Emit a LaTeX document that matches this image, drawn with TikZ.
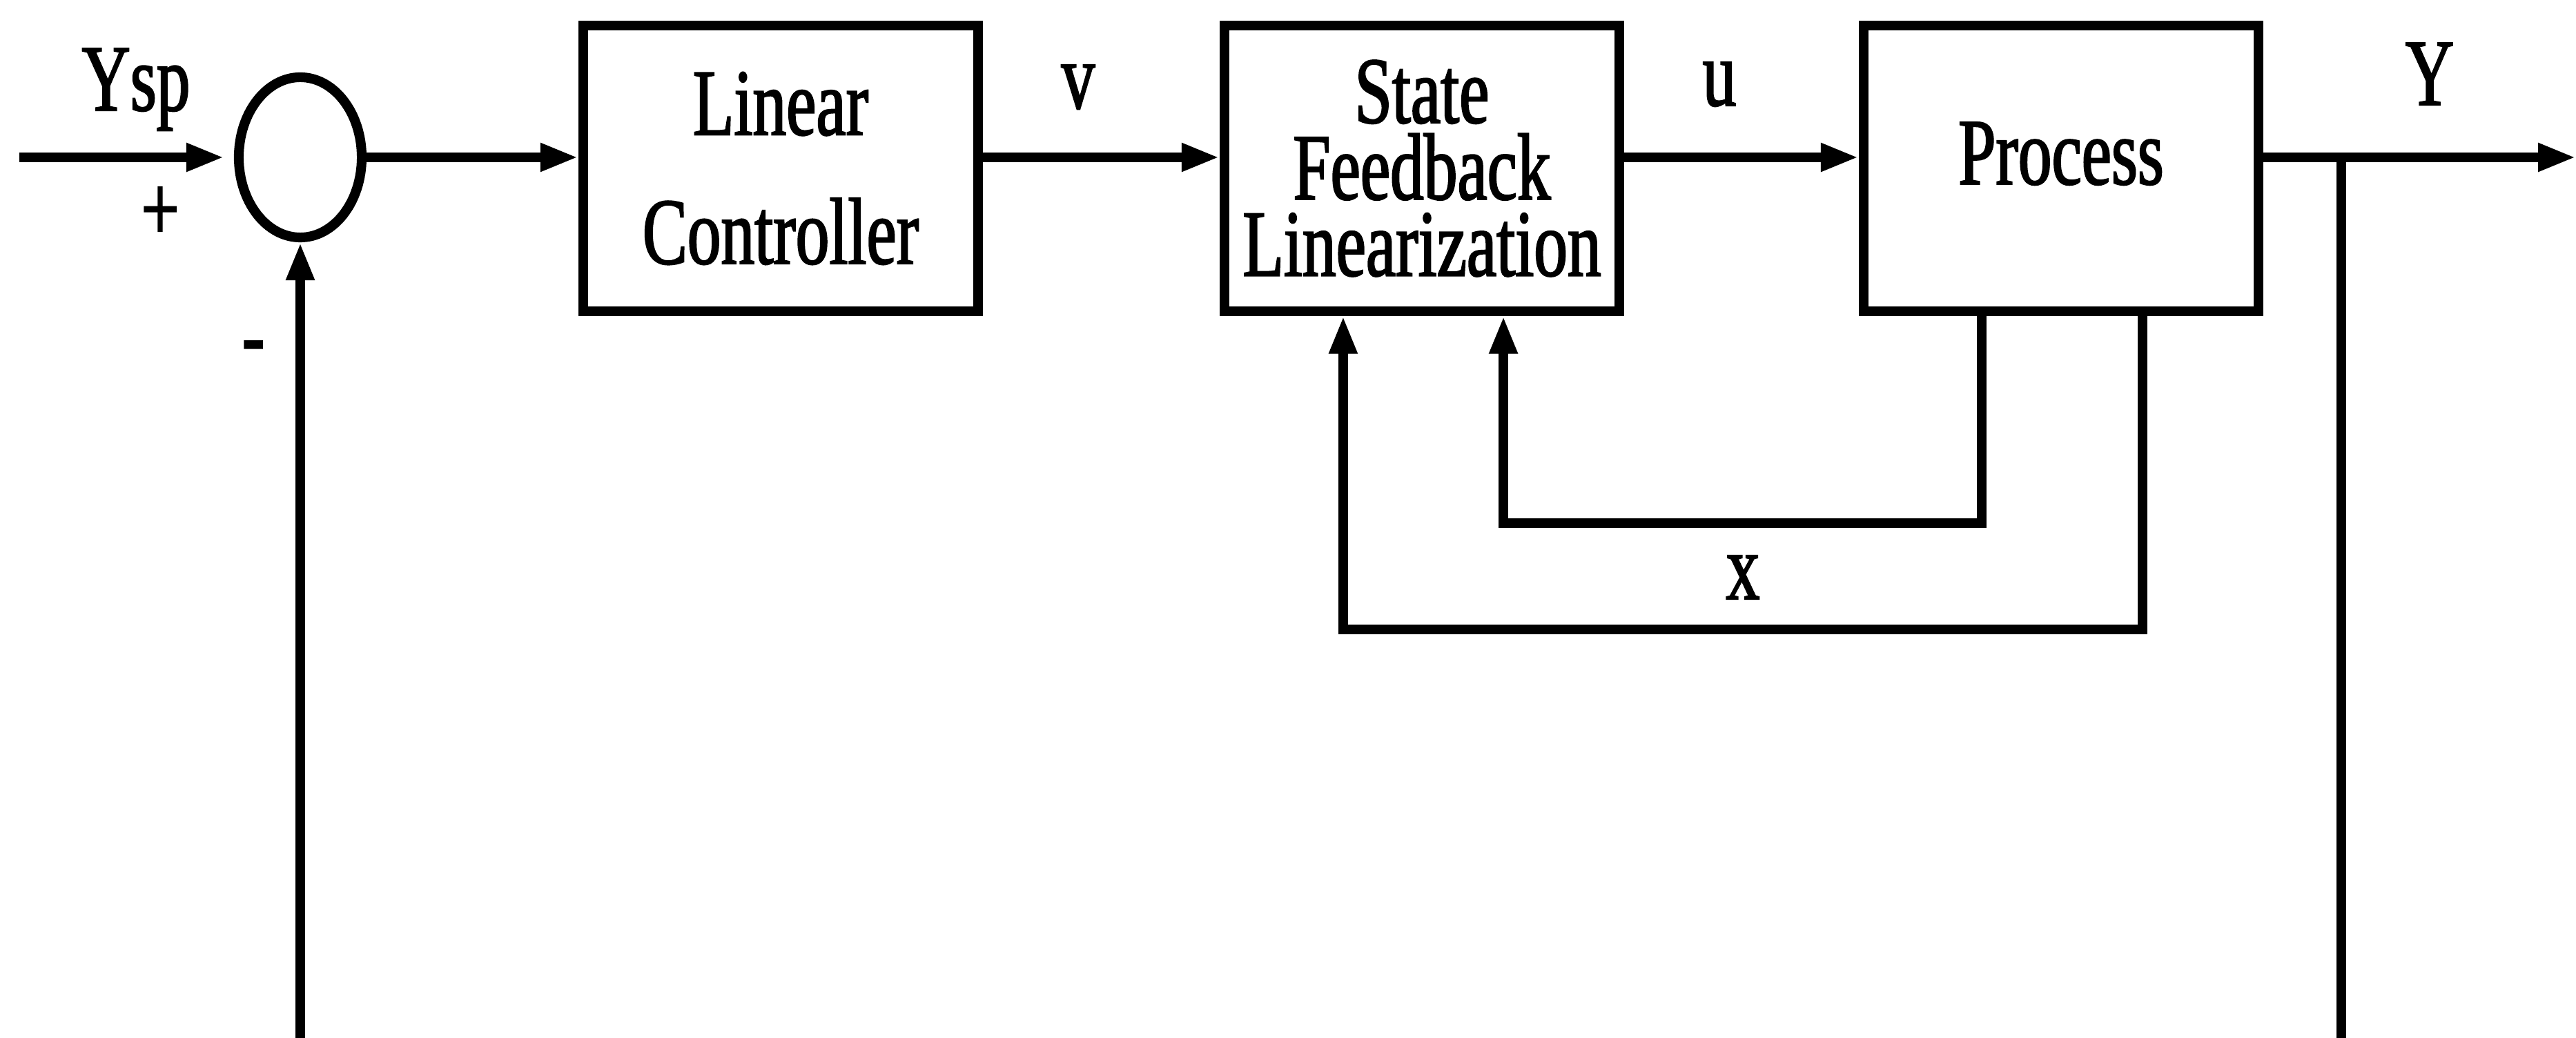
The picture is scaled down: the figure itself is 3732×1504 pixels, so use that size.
\documentclass[tikz,border=0pt]{standalone}
\usepackage{fontspec}
\setmainfont{Liberation Serif}[FakeStretch=0.71,FakeBold=1.6,AutoFakeBold=1.6]
\usetikzlibrary{arrows.meta,shapes.geometric}
\begin{document}
\begin{tikzpicture}[x=0.01cm,y=-0.01cm,
  lw/.style={line width=4pt},
  txt/.style={font=\fontsize{39}{31.5}\selectfont\bfseries},
  box/.style={draw,lw,rectangle,minimum width=5.72cm,minimum height=4.13cm,inner sep=0pt,align=center,txt},
  sumnode/.style={draw,lw,ellipse,minimum width=1.78cm,minimum height=2.32cm,inner sep=0pt},
  lbl/.style={inner sep=0pt,anchor=base,txt},
  arr/.style={lw,-{Triangle[length=0.55cm,width=0.38cm]}},
  ln/.style={lw}]
\useasboundingbox (0,0) rectangle (3732,1504);

% blocks
\node[sumnode] (sum) at (435,228) {};
\node[box] (lc) at (1131,244) {Linear\\[0.76cm]Controller};
\node[box] (sfl) at (2060,244) {State\\Feedback\\Linearization};
\node[box,text depth=0.44cm] (proc) at (2986,244) {Process};

% labels
\node[lbl] (ysp) at (197,160) {Ysp};
\node[inner sep=0pt,txt] (plus) at (232,310) {+};
\node[inner sep=0pt,txt] (minus) at (367,513) {-};
\node[lbl] (v) at (1562,157) {v};
\node[lbl] (u) at (2491,153) {u};
\node[lbl] (y) at (3520,152) {Y};
\node[lbl] (x) at (2525,868) {x};

% free ends
\coordinate (in) at (28,228);
\coordinate (out) at (3732,228);
\coordinate (br) at (3392,228);
\coordinate (brb) at (3392,1504);
\coordinate (fb) at (435,1504);

% connectors
\draw[arr,shorten >=0.14cm] (in) -- (sum.west);
\draw[arr] (sum.east) -- (lc.west |- sum);
\draw[arr] (lc.east |- sum) -- (sfl.west |- sum);
\draw[arr] (sfl.east |- sum) -- (proc.west |- sum);
\draw[arr] (proc.east |- sum) -- (out);
\draw[ln] (br) -- (brb);
\draw[arr] (fb) -- (sum.south);
\draw[arr] ([xshift=-1.15cm]proc.south) -- ++(0cm,-3cm) -| ([xshift=1.18cm]sfl.south);
\draw[arr] ([xshift=1.18cm]proc.south) -- ++(0cm,-4.54cm) -| ([xshift=-1.14cm]sfl.south);
\end{tikzpicture}
\end{document}
